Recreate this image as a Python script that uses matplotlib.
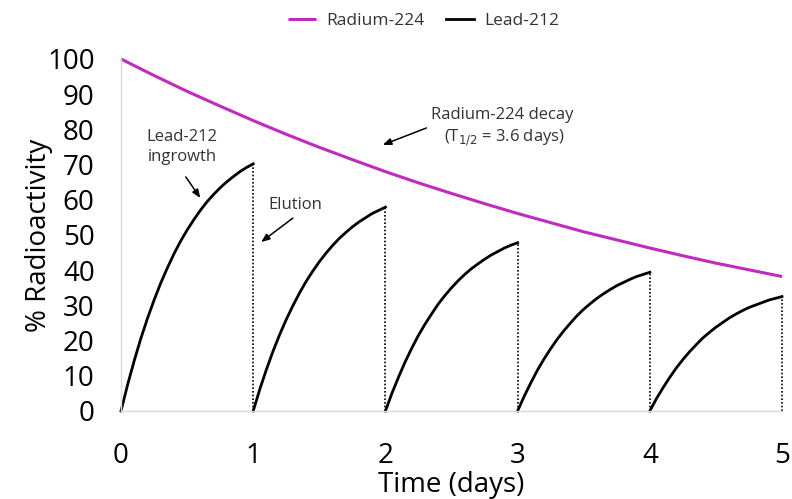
import matplotlib
matplotlib.use("Agg")
import matplotlib.pyplot as plt

# Radium-224 activity (% of initial) sampled every quarter day
ra_days = [0, 0.25, 0.5, 0.75, 1, 1.25, 1.5, 1.75, 2, 2.25, 2.5, 2.75,
           3, 3.25, 3.5, 3.75, 4, 4.25, 4.5, 4.75, 5]
ra_activity = [100, 95.3, 90.8, 86.6, 82.5, 78.6, 74.9, 71.4, 68.0, 64.8, 61.8,
               58.9, 56.1, 53.5, 50.9, 48.6, 46.3, 44.1, 42.0, 40.1, 38.2]

# Lead-212 ingrowth within each daily cycle (every 0.05 day after elution)
cycle_offsets = [0, 0.05, 0.1, 0.15, 0.2, 0.25, 0.3, 0.35, 0.4, 0.45, 0.5,
                 0.55, 0.6, 0.65, 0.7, 0.75, 0.8, 0.85, 0.9, 0.95, 1.0]
cycle_starts = [0, 1, 2, 3, 4]
pb_cycle1 = [0, 7.5, 14.3, 20.6, 26.3, 31.5, 36.3, 40.6, 44.6, 48.2, 51.4,
             54.3, 57.0, 59.4, 61.5, 63.4, 65.1, 66.6, 68.0, 69.2, 70.2]
pb_cycle2 = [0, 6.2, 11.8, 17.0, 21.7, 26.0, 29.9, 33.5, 36.8, 39.7, 42.4,
             44.8, 47.0, 49.0, 50.7, 52.3, 53.7, 54.9, 56.1, 57.0, 57.9]
pb_cycle3 = [0, 5.1, 9.7, 14.0, 17.9, 21.5, 24.7, 27.6, 30.4, 32.8, 35.0,
             37.0, 38.8, 40.4, 41.8, 43.1, 44.3, 45.3, 46.3, 47.1, 47.8]
pb_cycle4 = [0, 4.2, 8.0, 11.6, 14.8, 17.7, 20.4, 22.8, 25.0, 27.1, 28.9,
             30.5, 32.0, 33.3, 34.5, 35.6, 36.5, 37.4, 38.2, 38.8, 39.4]
pb_cycle5 = [0, 3.5, 6.6, 9.5, 12.2, 14.6, 16.8, 18.8, 20.7, 22.3, 23.8,
             25.1, 26.4, 27.5, 28.5, 29.4, 30.1, 30.8, 31.5, 32.0, 32.5]
pb_cycles = [pb_cycle1, pb_cycle2, pb_cycle3, pb_cycle4, pb_cycle5]

x_ticks = [0, 1, 2, 3, 4, 5]
y_ticks = [0, 10, 20, 30, 40, 50, 60, 70, 80, 90, 100]

MAGENTA = "#C02AC0"
TEXT = "#333333"
plt.rcParams["font.family"] = ["Open Sans", "DejaVu Sans"]

fig = plt.figure(figsize=(7.92, 4.99), dpi=100)
ax = fig.add_axes([0.1528, 0.1764, 0.8346, 0.7054])

ax.plot(ra_days, ra_activity, color=MAGENTA, lw=2.2, clip_on=False,
        label="Radium-224", solid_capstyle="butt")
for i, (start, vals) in enumerate(zip(cycle_starts, pb_cycles)):
    xs = [start + o for o in cycle_offsets]
    ax.plot(xs, vals, color="black", lw=2.0, clip_on=False,
            label="Lead-212" if i == 0 else None)
    ax.plot([xs[-1], xs[-1]], [0, vals[-1]], color="black", lw=1.2,
            ls=(0, (1, 1.2)), clip_on=False)

ax.set_xlim(0, 5)
ax.set_ylim(0, 100)
ax.set_xticks(x_ticks)
ax.set_yticks(y_ticks)
ax.tick_params(axis="both", length=0, labelsize=20, colors="black")
ax.tick_params(axis="x", pad=22)
ax.tick_params(axis="y", pad=19)
for s in ("top", "right"):
    ax.spines[s].set_visible(False)
for s in ("left", "bottom"):
    ax.spines[s].set_color("#d9d9d9")
    ax.spines[s].set_linewidth(1.0)

ax.set_xlabel("Time (days)", fontsize=20, labelpad=1)
ax.set_ylabel("% Radioactivity", fontsize=20)
ax.yaxis.set_label_coords(-0.103, 0.5)

arrow = dict(arrowstyle="-|>,head_length=0.5,head_width=0.2", color="black",
             lw=1.1, shrinkA=0, shrinkB=0)
ax.annotate("", xy=(0.60, 60.5), xytext=(0.49, 66.5), arrowprops=arrow)
ax.text(0.46, 75, "Lead-212\ningrowth", ha="center", va="center",
        fontsize=12, color=TEXT, linespacing=1.3)
ax.annotate("", xy=(1.06, 48), xytext=(1.30, 54.8), arrowprops=arrow)
ax.text(1.32, 58.5, "Elution", ha="center", va="center", fontsize=12, color=TEXT)
ax.annotate("", xy=(1.98, 75.6), xytext=(2.31, 80.4), arrowprops=arrow)
ax.text(2.88, 84.2, "Radium-224 decay", ha="center", va="center",
        fontsize=12, color=TEXT)
ax.text(2.90, 77.6, r"(T$_{1/2}$ = 3.6 days)", ha="center", va="center",
        fontsize=12, color=TEXT)

fig.legend(loc="upper center", bbox_to_anchor=(0.535, 1.005), ncol=2,
           frameon=False, fontsize=12.5, handlelength=1.6, columnspacing=1.2,
           handletextpad=0.6, labelcolor=TEXT)

fig.savefig("out.png", dpi=100)
